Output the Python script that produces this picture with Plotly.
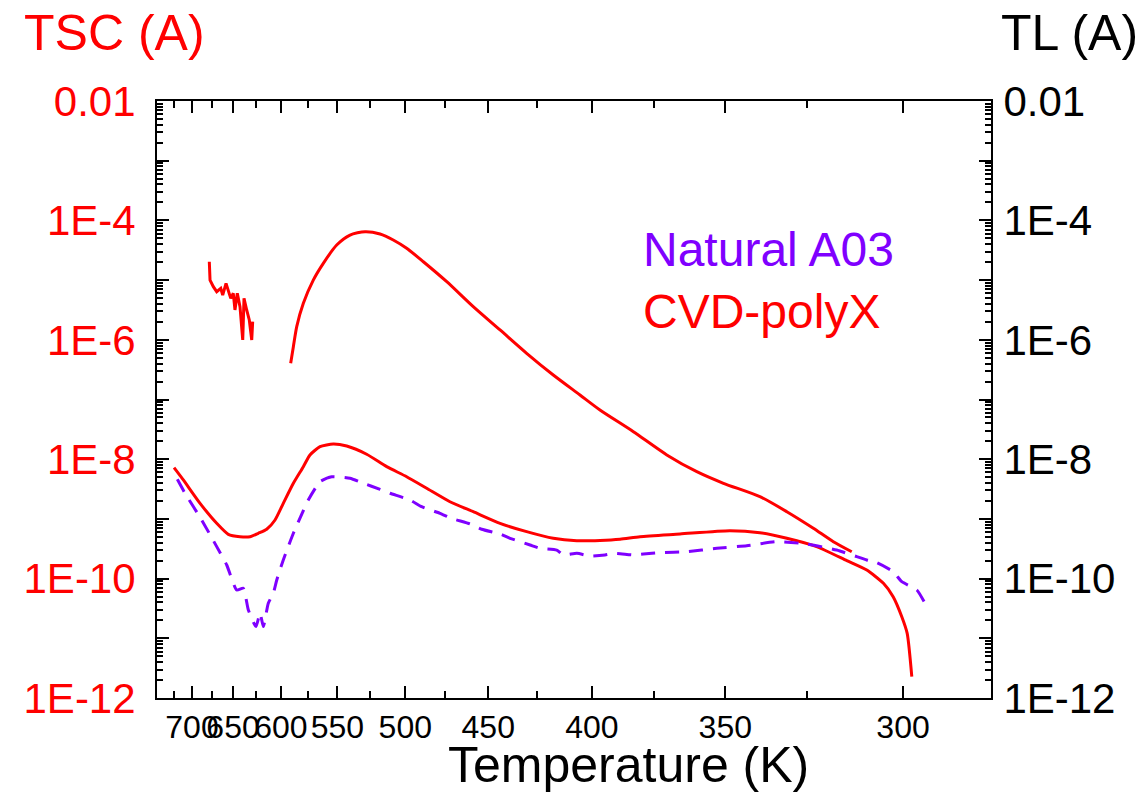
import plotly.graph_objects as go

# ---------------- data ----------------
# Temperature ticks (axis is linear in 1000/T)
T_TICKS = [700, 650, 600, 550, 500, 450, 400, 350, 300]
T_MINOR = [725, 675, 625, 575, 525, 475, 425, 375, 325]
Y_DECADES = [1e-12, 1e-11, 1e-10, 1e-9, 1e-8, 1e-7, 1e-6, 1e-5, 1e-4, 1e-3, 1e-2]
Y_LABELS = ["1E-12", "", "1E-10", "", "1E-8", "", "1E-6", "", "1E-4", "", "0.01"]

# CVD-polyX, TSC (lower red curve)
cvd_tsc_T = [724.4, 711.6, 689.6, 669.0, 655.4, 642.2, 631.3, 622.6, 614.0, 605.7,
             597.7, 588.2, 579.1, 573.2, 564.5, 553.4, 542.6, 527.3, 512.8, 499.1,
             486.1, 471.8, 458.3, 443.7, 430.1, 417.3, 406.6, 396.6, 388.3, 380.4,
             365.5, 348.5, 339.0, 330.9, 322.4, 314.2, 309.0, 304.8, 302.4, 300.3,
             299.0, 297.9]
cvd_tsc_A = [7.21e-9, 4.49e-9, 1.82e-9, 8.44e-10, 5.52e-10, 5.03e-10, 5.03e-10, 5.74e-10, 6.70e-10, 9.59e-10,
             1.82e-9, 3.95e-9, 7.50e-9, 1.18e-8, 1.62e-8, 1.80e-8, 1.66e-8, 1.21e-8, 7.50e-9, 5.09e-9,
             3.26e-9, 1.94e-9, 1.32e-9, 8.44e-10, 6.11e-10, 4.73e-10, 4.31e-10, 4.35e-10, 4.55e-10, 5.03e-10,
             5.58e-10, 6.35e-10, 5.88e-10, 4.73e-10, 3.43e-10, 2.00e-10, 1.39e-10, 8.34e-11, 4.98e-11, 2.30e-11,
             1.21e-11, 2.28e-12]

# Natural A03 (purple dashed curve)
nat_T = [719.8, 709.3, 687.5, 669.0, 657.2, 645.9, 638.6, 633.1, 625.0, 620.8,
         617.4, 612.4, 607.4, 604.0, 597.7, 588.2, 579.1, 574.7, 564.5, 554.7,
         540.0, 531.0, 517.5, 510.5, 496.9, 489.3, 477.8, 470.8, 460.1, 453.6,
         443.7, 438.5, 428.4, 423.6, 415.7, 412.7, 406.6, 400.8, 394.5, 390.4,
         383.0, 379.1, 372.8, 363.1, 352.8, 343.1, 333.9, 325.2, 316.9, 309.0,
         306.5, 302.4, 300.3, 296.7, 294.8]
nat_A = [4.60e-9, 2.69e-9, 9.59e-10, 3.43e-10, 1.69e-10, 6.44e-11, 6.89e-11, 2.98e-11, 1.57e-11, 2.65e-11,
         1.57e-11, 3.86e-11, 5.68e-11, 9.48e-11, 2.05e-10, 5.74e-10, 1.38e-9, 2.07e-9, 4.20e-9, 5.09e-9,
         4.79e-9, 4.04e-9, 3.13e-9, 2.69e-9, 2.07e-9, 1.60e-9, 1.24e-9, 1.02e-9, 8.22e-10, 6.70e-10,
         5.58e-10, 4.73e-10, 3.66e-10, 3.22e-10, 3.01e-10, 2.49e-10, 2.65e-10, 2.39e-10, 2.49e-10, 2.65e-10,
         2.49e-10, 2.58e-10, 2.71e-10, 2.82e-10, 3.22e-10, 3.56e-10, 4.15e-10, 3.80e-10, 3.01e-10, 2.05e-10,
         1.85e-10, 1.31e-10, 8.87e-11, 6.44e-11, 3.86e-11]

# CVD-polyX, TL (upper red curve)
cvd_tl_T = [590.7, 588.2, 585.1, 579.1, 570.3, 561.7, 550.6, 540.0, 528.5, 517.5,
            508.2, 499.1, 488.2, 473.7, 458.3, 443.7, 430.1, 417.3, 405.2, 396.6,
            383.0, 370.3, 359.6, 350.6, 339.0, 330.9, 323.3, 317.8, 312.9]
cvd_tl_A = [4.04e-7, 7.66e-7, 1.66e-6, 4.09e-6, 1.00e-5, 1.91e-5, 3.87e-5, 5.69e-5, 6.47e-5, 5.92e-5,
            4.70e-5, 3.41e-5, 2.03e-5, 9.40e-6, 3.59e-6, 1.46e-6, 5.94e-7, 2.57e-7, 1.19e-7, 6.67e-8,
            2.89e-8, 1.18e-8, 6.18e-9, 3.95e-9, 2.36e-9, 1.32e-9, 6.97e-10, 4.15e-10, 2.82e-10]

# CVD-polyX, TL high-temperature noisy segment
cvd_tl_hot_T = [678.0, 677.1, 673.1, 669.0, 664.2, 661.9, 658.0, 655.4, 652.6, 649.7,
                647.8, 645.2, 642.2, 639.2, 637.8, 634.9, 632.1, 629.5, 628.5]
cvd_tl_hot_A = [2.03e-5, 1.00e-5, 7.76e-6, 6.40e-6, 7.29e-6, 5.62e-6, 8.83e-6, 6.82e-6, 4.95e-6, 6.01e-6,
                3.16e-6, 6.01e-6, 3.59e-6, 9.93e-7, 4.95e-6, 3.16e-6, 2.15e-6, 9.93e-7, 2.01e-6]

# ---------------- figure ----------------
def inv(ts):
    return [1000.0 / t for t in ts]

RED = "#FF0000"
PURPLE = "#7F00FF"

fig = go.Figure()
fig.add_trace(go.Scatter(x=inv(cvd_tsc_T), y=cvd_tsc_A, mode="lines", name="CVD-polyX TSC",
                         line=dict(color=RED, width=3, shape="spline", smoothing=0.6)))
fig.add_trace(go.Scatter(x=inv(nat_T), y=nat_A, mode="lines", name="Natural A03",
                         line=dict(color=PURPLE, width=3, dash="14px,10px", shape="spline", smoothing=0.5)))
fig.add_trace(go.Scatter(x=inv(cvd_tl_T), y=cvd_tl_A, mode="lines", name="CVD-polyX TL",
                         line=dict(color=RED, width=3, shape="spline", smoothing=0.7), yaxis="y2"))
fig.add_trace(go.Scatter(x=inv(cvd_tl_hot_T), y=cvd_tl_hot_A, mode="lines", name="CVD-polyX TL hot",
                         line=dict(color=RED, width=3), yaxis="y2"))

FONT = "Liberation Sans, Arial, sans-serif"

def yaxis_common():
    return dict(
        type="log", range=[-12, -2],
        tickmode="array", tickvals=Y_DECADES, ticktext=Y_LABELS,
        ticks="inside", ticklen=12, tickwidth=2, tickcolor="black",
        minor=dict(tickmode="array",
                   tickvals=[k * d for d in Y_DECADES[:-1] for k in range(2, 10)],
                   ticks="inside", ticklen=6, tickwidth=1.5, tickcolor="black"),
        showline=True, linecolor="black", linewidth=2,
        showgrid=False, zeroline=False,
    )

fig.update_layout(
    width=1144, height=805,
    margin=dict(l=157, r=153, t=101, b=107),
    paper_bgcolor="white", plot_bgcolor="white",
    showlegend=False,
    font=dict(family=FONT, color="black"),
    xaxis=dict(
        range=[1.3348, 3.5690],
        tickmode="array", tickvals=inv(T_TICKS), ticktext=[str(t) for t in T_TICKS],
        tickangle=0,
        ticks="inside", ticklen=12, tickwidth=2, tickcolor="black",
        minor=dict(tickmode="array", tickvals=inv(T_MINOR),
                   ticks="inside", ticklen=7, tickwidth=2, tickcolor="black"),
        showline=True, linecolor="black", linewidth=2, mirror="ticks",
        showgrid=False, zeroline=False,
        tickfont=dict(size=32, color="black", family=FONT),
        ticklabelstandoff=0,
    ),
    yaxis=dict(**yaxis_common(), side="left", ticklabelstandoff=11,
               tickfont=dict(size=42, color=RED, family=FONT)),
    yaxis2=dict(**yaxis_common(), side="right", overlaying="y", ticklabelstandoff=2,
                tickfont=dict(size=42, color="black", family=FONT)),
)

annotations = [
    dict(text="TSC (A)", x=-0.162, y=1.114, xanchor="left", yanchor="middle",
         font=dict(size=50, color=RED, family=FONT)),
    dict(text="TL (A)", x=1.1787, y=1.114, xanchor="right", yanchor="middle",
         font=dict(size=50, color="black", family=FONT)),
    dict(text="Temperature (K)", x=0.565, y=-0.112, xanchor="center", yanchor="middle",
         font=dict(size=50, color="black", family=FONT)),
    dict(text="Natural A03", x=0.5803, y=0.752, xanchor="left", yanchor="middle",
         font=dict(size=48, color=PURPLE, family=FONT)),
    dict(text="CVD-polyX", x=0.5803, y=0.648, xanchor="left", yanchor="middle",
         font=dict(size=48, color=RED, family=FONT)),
]
for a in annotations:
    a.update(xref="paper", yref="paper", showarrow=False)
fig.update_layout(annotations=annotations)

fig.write_html("out.html", config={"displayModeBar": False},
               post_script="document.body.style.margin='0';")
